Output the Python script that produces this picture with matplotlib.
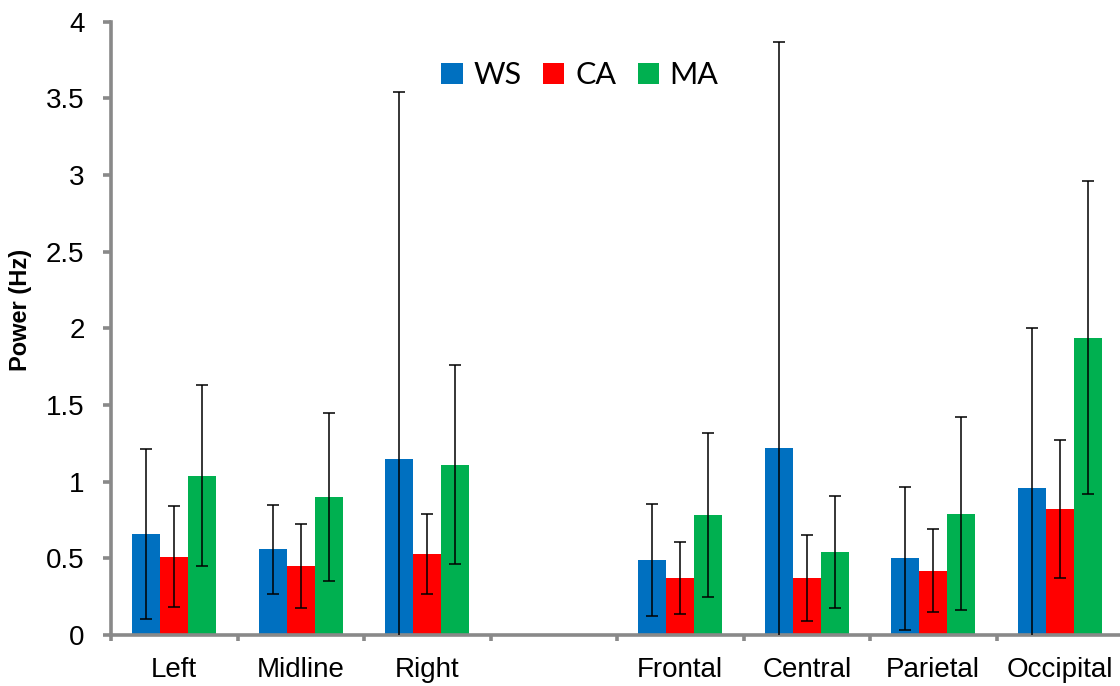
import numpy as np
import matplotlib.pyplot as plt
from matplotlib.patches import Patch

regions = ['Left', 'Midline', 'Right', 'Frontal', 'Central', 'Parietal', 'Occipital']
groups = ['WS', 'CA', 'MA']
colors = ['#0070C0', '#FF0000', '#00B050']

ws = [0.66, 0.56, 1.15, 0.49, 1.22, 0.50, 0.96]
ws_err = [0.555, 0.29, 2.39, 0.365, 2.645, 0.465, 1.04]
ca = [0.51, 0.45, 0.53, 0.37, 0.37, 0.42, 0.82]
ca_err = [0.33, 0.275, 0.26, 0.235, 0.28, 0.27, 0.45]
ma = [1.04, 0.90, 1.11, 0.78, 0.54, 0.79, 1.94]
ma_err = [0.59, 0.55, 0.65, 0.535, 0.365, 0.63, 1.02]

values = [ws, ca, ma]
errors = [ws_err, ca_err, ma_err]

axis_grey = '#898989'
plt.rcParams['font.family'] = ['Liberation Sans', 'DejaVu Sans']

fig = plt.figure(figsize=(11.2, 6.86), dpi=100)
ax = fig.add_axes([111 / 1120, 51 / 686, (1123 - 111) / 1120, (635 - 21.7) / 686])

# one empty slot between the hemisphere groups and the lobe groups
idx = np.arange(len(regions))
x = idx + (idx >= 3)
w = 1 / 4.5

for k, (vals, errs, col) in enumerate(zip(values, errors, colors)):
    pos = x + (k - 1) * w
    ax.bar(pos, vals, width=w, color=col, zorder=2)
    ax.errorbar(pos, vals, yerr=errs, fmt='none', ecolor='black',
                elinewidth=1.1, capsize=4.3, capthick=1.1, zorder=3)

ax.set_xlim(-0.5, 7.5)
ax.set_ylim(0, 4)
ax.set_yticks(np.arange(0, 4.01, 0.5))
ax.set_yticklabels(['0', '0.5', '1', '1.5', '2', '2.5', '3', '3.5', '4'])

ax.set_xticks(np.arange(-0.5, 7.6, 1))
ax.set_xticklabels([])
ax.set_xticks(x, minor=True)
ax.set_xticklabels(regions, minor=True)

for s in ['top', 'right']:
    ax.spines[s].set_visible(False)
for s in ['left', 'bottom']:
    ax.spines[s].set_color(axis_grey)
    ax.spines[s].set_linewidth(2.6)

ax.tick_params(axis='y', which='major', direction='out', length=6, width=2.6,
               color=axis_grey, labelsize=20, pad=13)
ax.tick_params(axis='x', which='major', direction='out', length=4, width=2.6,
               color=axis_grey)
ax.tick_params(axis='x', which='minor', length=0, labelsize=20, pad=16)

ax.set_ylabel('Power (Hz)', fontsize=17, fontweight='bold')
ax.yaxis.set_label_coords(-0.078, 0.53)

handles = [Patch(facecolor=c) for c in colors]
fig.legend(handles, groups, loc='center', bbox_to_anchor=(580 / 1120, 1 - 75 / 686),
           ncol=3, frameon=False, prop={'family': 'Lato', 'size': 22},
           handlelength=0.7, handleheight=0.7, handletextpad=0.35,
           columnspacing=0.7, borderaxespad=0)

fig.savefig('out.png', dpi=100)
